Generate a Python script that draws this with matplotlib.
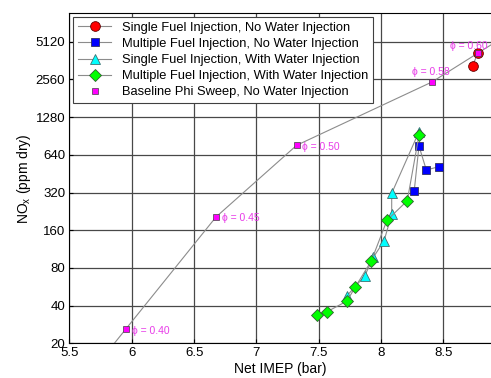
import numpy as np
import matplotlib
matplotlib.use("Agg")
import matplotlib.pyplot as plt

plt.rcParams['font.family'] = ['Liberation Sans', 'DejaVu Sans']

# Single fuel injection, no water injection
sfi_x = [8.736, 8.776]
sfi_y = [3290, 4140]

# Multiple fuel injection, no water injection
mfi_x = [8.267, 8.305, 8.364, 8.463]
mfi_y = [331, 752, 484, 514]

# Single fuel injection, with water injection
sfw_x = [7.725, 7.869, 7.938, 8.024, 8.086, 8.086, 8.305]
sfw_y = [47.7, 68.9, 97, 131, 214, 315, 979]

# Multiple fuel injection, with water injection
mfw_x = [7.489, 7.564, 7.727, 7.794, 7.922, 8.048, 8.211, 8.305]
mfw_y = [33.9, 35.6, 43.5, 56.3, 90.8, 192, 275, 916]

# Baseline phi sweep
phi = [0.40, 0.45, 0.50, 0.58, 0.60]
base_x = [5.951, 6.676, 7.323, 8.409, 8.776]
base_y = [25.9, 204, 762, 2440, 4140]

yticks = [20, 40, 80, 160, 320, 640, 1280, 2560, 5120]
xticks = [5.5, 6, 6.5, 7, 7.5, 8, 8.5]
xmin, xmax = 5.5, 8.883
ymin, ymax = 20, 8630

# text offsets (points) for the phi labels
phi_off = [(4.5, -1.5), (4, -1), (4, -1.2), (-14, 7), (-20, 5.5)]

fig = plt.figure(figsize=(4.91, 3.78), dpi=100)
ax = fig.add_axes([0.1415, 0.0918, 0.8585, 0.873])

gray = '#8c8c8c'
ax.plot(sfi_x, sfi_y, '-', color=gray, lw=0.8, marker='o', ms=7, mfc='#ff0000', mec='#600000', mew=0.6,
        label='Single Fuel Injection, No Water Injection', zorder=3)
ax.plot(mfi_x, mfi_y, '-', color=gray, lw=0.8, marker='s', ms=6, mfc='#0000ff', mec='#303060', mew=0.6,
        label='Multiple Fuel Injection, No Water Injection', zorder=3)
ax.plot(sfw_x, sfw_y, '-', color=gray, lw=0.8, marker='^', ms=7.5, mfc='#00ffff', mec='#407070', mew=0.6,
        label='Single Fuel Injection, With Water Injection', zorder=3)
ax.plot(mfw_x, mfw_y, '-', color=gray, lw=0.8, marker='D', ms=6, mfc='#00ff00', mec='#306030', mew=0.6,
        label='Multiple Fuel Injection, With Water Injection', zorder=3)

# baseline line, first and last segment extended to the axes edges
lx = np.array(base_x)
ly = np.log2(base_y)
s0 = (ly[1] - ly[0]) / (lx[1] - lx[0])
s1 = (ly[-1] - ly[-2]) / (lx[-1] - lx[-2])
x_start = lx[0] + (np.log2(ymin) - ly[0]) / s0
y_end = ly[-1] + s1 * (xmax - lx[-1])
line_x = np.concatenate([[x_start], lx, [xmax]])
line_y = 2 ** np.concatenate([[np.log2(ymin)], ly, [y_end]])
ax.plot(line_x, line_y, '-', color=gray, lw=0.8, zorder=2)
ax.plot(base_x, base_y, 's', ms=4.5, mfc='#ff00ff', mec='#404040', mew=0.5,
        label='Baseline Phi Sweep, No Water Injection', zorder=4)

for p, x, y, off in zip(phi, base_x, base_y, phi_off):
    ax.annotate('\u03d5 = %.2f' % p, (x, y), xytext=off, textcoords='offset points',
                ha='left', va='center', color='#e83ce8', fontsize=7.5)

ax.set_yscale('log', base=2)
ax.set_xlim(xmin, xmax)
ax.set_ylim(ymin, ymax)
ax.set_yticks(yticks)
ax.set_yticklabels([str(v) for v in yticks])
ax.minorticks_off()
ax.set_xticks(xticks)
ax.set_xticklabels(['5.5', '6', '6.5', '7', '7.5', '8', '8.5'])
ax.tick_params(direction='in', length=3, labelsize=9.5, pad=3)
ax.grid(True, color='#484848', lw=0.9)
ax.set_axisbelow(True)
ax.spines['right'].set_visible(False)

ax.set_xlabel('Net IMEP (bar)', fontsize=10, labelpad=2)
ax.set_ylabel('NO$_\\mathregular{x}$ (ppm dry)', fontsize=10, labelpad=2)

leg = ax.legend(loc='upper left', fontsize=9.3, frameon=True, fancybox=False, edgecolor='#404040',
                borderpad=0.35, labelspacing=0.32, handlelength=2.6, borderaxespad=0.3, framealpha=1)
leg.get_frame().set_linewidth(0.8)

fig.savefig('out.png', dpi=100)
